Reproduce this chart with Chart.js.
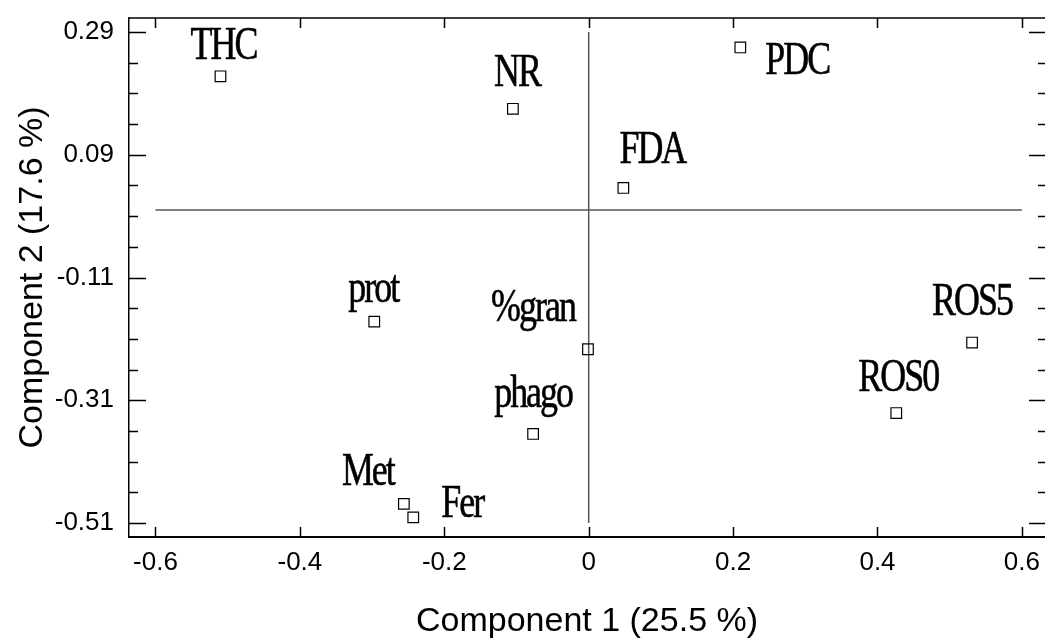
<!DOCTYPE html>
<html>
<head>
<meta charset="utf-8">
<script src="https://cdn.jsdelivr.net/npm/chart.js@4.4.1/dist/chart.umd.min.js"></script>
<style>
  html, body { margin: 0; padding: 0; overflow: hidden; background: #fff; }
  #pca { display: block; width: 1045px; height: 639px; }
</style>
</head>
<body>
<canvas id="pca" width="1045" height="639"></canvas>
<script>
// loadings
const names = ['THC', 'NR', 'PDC', 'FDA', 'prot', '%gran', 'phago', 'ROS5', 'ROS0', 'Met', 'Fer'];
const comp1 = [-0.510, -0.105, 0.210, 0.048, -0.297, -0.001, -0.077, 0.531, 0.426, -0.256, -0.243];
const comp2 = [0.218, 0.165, 0.265, 0.036, -0.182, -0.227, -0.365, -0.216, -0.331, -0.479, -0.501];

const xTicks = [-0.6, -0.4, -0.2, 0, 0.2, 0.4, 0.6];
const yTicks = [-0.51, -0.31, -0.11, 0.09, 0.29];
const yMinor = [-0.46, -0.41, -0.36, -0.26, -0.21, -0.16, -0.06, -0.01, 0.04, 0.14, 0.19, 0.24];

// zero reference lines
const hLineX = [-0.6, 0.6];
const vLineY = [-0.51, 0.29];

// where each label sits relative to its marker (px: center x, baseline y)
const labelOffsets = [[3, -17], [4, -23], [57, 27], [29, -25], [-1, -20], [-55, -28],
                      [0, -27], [0, -28], [2, -22], [-36, -19], [49, 0]];

const points = comp1.map((x, i) => ({x: x, y: comp2[i]}));

const axisDeco = {
    id: 'axisDeco',
    afterDatasetsDraw(chart) {
        const ctx = chart.ctx;
        const xs = chart.scales.x, ys = chart.scales.y;
        const a = chart.chartArea;
        ctx.save();
        ctx.strokeStyle = '#000';
        ctx.lineWidth = 1.5;
        ctx.beginPath();
        ctx.moveTo(a.left, a.top);
        ctx.lineTo(a.right, a.top);
        // x ticks, top and bottom, pointing in
        xTicks.forEach(v => {
            const p = Math.round(xs.getPixelForValue(v)) + 0.5;
            ctx.moveTo(p, a.top); ctx.lineTo(p, a.top + 10);
            ctx.moveTo(p, a.bottom); ctx.lineTo(p, a.bottom - 10);
        });
        yTicks.forEach(v => {
            const p = Math.round(ys.getPixelForValue(v)) + 0.5;
            ctx.moveTo(a.left, p); ctx.lineTo(a.left + 17, p);
            ctx.moveTo(a.right, p); ctx.lineTo(a.right - 16, p);
        });
        yMinor.forEach(v => {
            const p = Math.round(ys.getPixelForValue(v)) + 0.5;
            ctx.moveTo(a.left, p); ctx.lineTo(a.left + 9, p);
            ctx.moveTo(a.right, p); ctx.lineTo(a.right - 7, p);
        });
        ctx.stroke();

        // point labels, condensed serif
        const meta = chart.getDatasetMeta(0);
        ctx.fillStyle = '#000';
        ctx.strokeStyle = '#000';
        ctx.lineWidth = 0.6;
        ctx.font = '46px "Liberation Serif", "Times New Roman", serif';
        ctx.textAlign = 'center';
        ctx.textBaseline = 'alphabetic';
        meta.data.forEach((pt, i) => {
            const off = labelOffsets[i];
            ctx.save();
            ctx.translate(pt.x + off[0], pt.y + off[1]);
            ctx.scale(0.78, 1);
            ctx.letterSpacing = '-2.5px';
            ctx.fillText(names[i], 0, 0);
            ctx.strokeText(names[i], 0, 0);
            ctx.restore();
        });
        ctx.restore();
    }
};

const myChart = new Chart(document.getElementById('pca'), {
    type: 'scatter',
    data: {
        datasets: [{
            data: points,
            pointStyle: 'rect',
            pointRadius: 7.5,
            pointBorderWidth: 1.2,
            pointBorderColor: '#000',
            pointBackgroundColor: 'rgba(0,0,0,0)',
            order: 0
        }, {
            data: hLineX.map(x => ({x: x, y: 0})),
            showLine: true,
            pointRadius: 0,
            borderColor: '#555',
            borderWidth: 1.5,
            order: 1
        }, {
            data: vLineY.map(y => ({x: 0, y: y})),
            showLine: true,
            pointRadius: 0,
            borderColor: '#555',
            borderWidth: 1.5,
            order: 1
        }]
    },
    options: {
        responsive: false,
        animation: false,
        layout: { autoPadding: false, padding: { top: 18, left: 0, right: 0, bottom: 0 } },
        plugins: { legend: { display: false }, tooltip: { enabled: false } },
        scales: {
            x: {
                type: 'linear',
                min: -0.6367,
                max: 0.632,
                afterBuildTicks: s => { s.ticks = xTicks.map(v => ({value: v})); },
                afterFit: s => { s.height = 102; s.paddingLeft = 0; s.paddingRight = 0; },
                grid: { display: false, drawTicks: false },
                border: { display: true, color: '#000', width: 2 },
                ticks: {
                    padding: 10,
                    color: '#000',
                    font: { family: '"Liberation Sans", Arial, sans-serif', size: 26 },
                    callback: v => String(Math.round(v * 10) / 10)
                },
                title: {
                    display: true,
                    text: 'Component 1 (25.5 %)',
                    color: '#000',
                    font: { family: '"Liberation Sans", Arial, sans-serif', size: 34, lineHeight: 1 },
                    padding: { top: 0, bottom: 0 }
                }
            },
            y: {
                type: 'linear',
                min: -0.533,
                max: 0.313,
                afterBuildTicks: s => { s.ticks = yTicks.map(v => ({value: v})); },
                afterFit: s => { s.width = 129; s.paddingTop = 0; s.paddingBottom = 0; },
                grid: { display: false, drawTicks: false },
                border: { display: true, color: '#000', width: 1.5 },
                ticks: {
                    padding: 15,
                    color: '#000',
                    font: { family: '"Liberation Sans", Arial, sans-serif', size: 26 },
                    callback: v => v.toFixed(2)
                },
                title: {
                    display: true,
                    text: 'Component 2 (17.6 %)',
                    color: '#000',
                    font: { family: '"Liberation Sans", Arial, sans-serif', size: 34, lineHeight: 1 },
                    padding: { top: 16, bottom: 0 }
                }
            }
        }
    },
    plugins: [axisDeco]
});
</script>
</body>
</html>
